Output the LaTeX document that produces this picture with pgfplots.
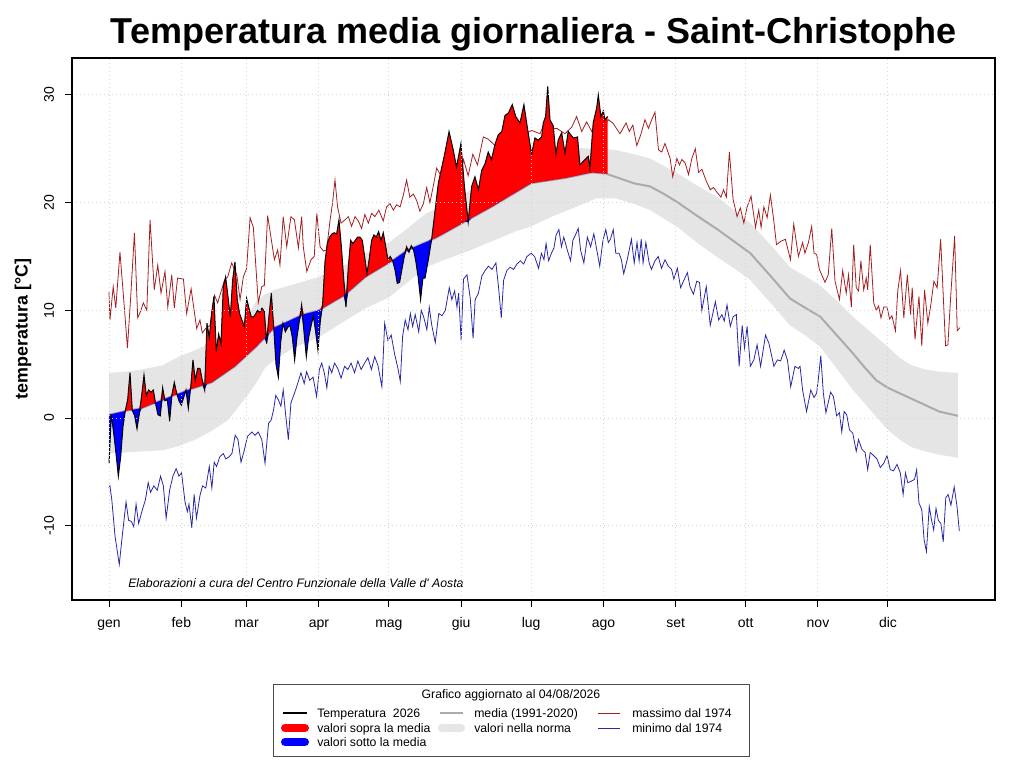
\documentclass[border=0pt]{standalone}
\usepackage{fontspec}
\setmainfont{Liberation Sans}
\usepackage{pgfplots}
\usepackage{pgfplotstable}
\pgfplotsset{compat=1.18}
\usepgfplotslibrary{fillbetween}
\definecolor{bandgray}{HTML}{E5E5E5}
\definecolor{meangray}{HTML}{ABABAB}
\definecolor{maxred}{HTML}{A41E22}
\definecolor{minblue}{HTML}{2828A8}
\definecolor{gridgray}{HTML}{D3D3D3}

% temperature 2026 (t) with the 1991-2020 mean (m) at the same days
\pgfplotstableread{
d t m
1 -4.2 0.30
2 0.3 0.35
3 -1.4 0.40
4 -3.3 0.45
5 -5.4 0.50
6 -3.6 0.55
7 -0.8 0.60
8 0.7 0.65
9 1.7 0.70
10 4.2 0.73
11 0.7 0.77
12 0.2 0.80
13 -1.0 0.83
14 0.4 0.87
15 2.1 0.90
16 4.0 0.99
17 2.1 1.08
18 2.6 1.17
19 2.4 1.26
20 2.6 1.34
21 1.3 1.43
22 0.3 1.52
23 0.2 1.61
24 2.8 1.70
25 1.6 1.78
26 1.7 1.86
27 -0.3 1.95
28 2.2 2.03
29 3.3 2.11
30 2.3 2.19
31 1.6 2.27
32 1.2 2.35
33 1.9 2.44
34 2.6 2.52
35 0.9 2.60
36 2.8 2.67
37 5.4 2.74
38 3.5 2.81
39 4.6 2.88
40 4.6 2.95
41 3.5 3.02
42 2.6 3.09
43 8.8 3.16
44 7.5 3.23
45 9.7 3.30
46 11.3 3.45
47 6.2 3.60
48 7.8 3.75
49 6.9 3.90
50 12.2 4.05
51 13.1 4.20
52 11.3 4.35
53 9.4 4.50
54 12.8 4.65
55 14.5 4.80
56 11.0 5.00
57 9.7 5.20
58 9.1 5.40
59 8.5 5.60
60 11.1 5.80
61 10.2 6.00
62 9.4 6.20
63 9.4 6.40
64 9.7 6.60
64.6 10.0 6.74
65.6 9.8 6.96
66.6 10.2 7.19
67.6 9.9 7.41
68.6 6.9 7.64
69.6 9.5 7.86
70.6 11.6 8.09
71.6 8.5 8.31
72.6 5.0 8.46
73.6 3.8 8.56
74.6 7.0 8.66
75.6 8.8 8.76
76.6 8.0 8.86
77.6 8.4 8.96
78.6 8.6 9.06
79.6 7.5 9.16
80.6 5.4 9.26
81.6 7.5 9.36
82.6 9.0 9.46
83.6 10.5 9.56
84.6 8.0 9.63
85.6 5.7 9.69
86.6 7.5 9.75
87.6 8.5 9.80
88.6 9.5 9.86
89.6 8.0 9.92
90.6 6.3 9.98
91.6 9.0 10.08
92.6 10.6 10.20
93.6 14.5 10.33
94.6 16.2 10.46
95.6 16.8 10.58
96.6 17.1 10.71
97.6 17.2 10.84
98.6 17.1 10.97
99.6 18.4 11.09
100.6 16.0 11.22
101.6 13.0 11.35
102.6 10.3 11.51
103.6 14.0 11.70
104.6 16.5 11.89
105.6 16.2 12.08
106.6 16.5 12.27
107.6 16.8 12.46
108.6 16.8 12.65
109.6 16.5 12.84
110.6 15.0 13.02
111.6 13.4 13.18
112.6 14.8 13.31
113.6 16.5 13.44
114.6 17.0 13.57
115.6 16.8 13.70
116.6 17.3 13.83
117.6 16.5 13.96
118.6 17.2 14.09
119.6 16.0 14.22
120.6 14.7 14.35
121.6 15.0 14.49
122.6 14.6 14.64
123.6 13.8 14.79
124.6 12.5 14.94
125.6 12.6 15.09
126.6 13.8 15.24
127.6 15.0 15.39
128.6 15.9 15.54
129.6 15.4 15.66
130.6 16.0 15.75
131.6 15.6 15.84
132.6 14.5 15.93
133.6 13.0 16.02
134.6 11.0 16.12
135.6 13.0 16.21
136.5 13.0 16.29
138.0 14.8 16.43
139.4 16.7 16.56
142.2 21.8 16.85
145.0 24.6 17.18
146.8 26.6 17.40
148.6 24.9 17.62
150.0 23.3 17.79
151.9 25.5 18.02
153.4 21.5 18.21
155.0 18.2 18.40
156.5 21.5 18.58
157.9 22.4 18.75
159.4 21.2 18.93
160.8 23.0 19.10
162.2 23.6 19.26
163.6 24.7 19.43
165.0 24.0 19.60
166.5 25.4 19.79
167.9 26.3 19.97
169.4 26.6 20.17
170.8 28.1 20.35
172.2 28.3 20.54
173.9 29.1 20.76
175.4 28.0 20.95
177.2 27.4 21.18
178.9 29.1 21.40
180.5 26.8 21.61
182.2 24.5 21.81
183.6 26.0 21.85
185.0 25.8 21.90
186.5 26.1 21.95
187.2 27.4 21.97
188.2 28.0 22.00
189.1 30.8 22.03
190.1 27.7 22.07
191.5 27.1 22.11
192.6 24.5 22.15
193.6 25.8 22.18
195.1 26.5 22.24
196.5 24.6 22.28
197.9 26.6 22.34
200.1 26.0 22.44
201.9 26.1 22.52
202.9 23.5 22.57
205.1 24.0 22.67
206.5 24.3 22.73
207.2 23.2 22.76
208.6 27.4 22.79
210.1 28.8 22.76
210.8 30.0 22.75
211.9 28.0 22.73
213.0 28.5 22.71
213.6 27.7 22.70
214.8 28.0 22.68
}\temp

% mean 1991-2020
\pgfplotstableread{
d m
1 0.3
9 0.7
15 0.9
24 1.7
35 2.6
45 3.3
55 4.8
60 5.8
64 6.6
72 8.4
78 9.0
84 9.6
91 10.0
102 11.4
111 13.1
121 14.4
129 15.6
141 16.7
155 18.4
165 19.6
182 21.8
197 22.3
208 22.8
214 22.7
218 22.4
222 22.1
226 21.8
233 21.5
239 20.8
245 20.0
253 18.8
262 17.5
269 16.4
276 15.3
285 13.1
293 11.1
299 10.3
306 9.4
313 7.7
320 6.0
325 4.7
330 3.5
335 2.8
343 2.0
350 1.3
357 0.6
365 0.2
}\mean

% band of normal values
\pgfplotstableread{
d lo hi
1 -3.3 4.2
8 -3.2 4.3
15 -3.1 4.5
24 -3.0 4.9
31 -2.6 5.7
38 -2.0 6.3
45 -1.2 7.0
52 -0.2 7.9
60 2.0 9.3
64 3.2 10.8
68 4.7 11.5
72 5.4 11.9
80 6.5 12.4
91 7.5 13.1
102 9.0 14.2
111 10.2 15.3
121 11.2 16.3
129 12.6 17.6
137 14.0 19.0
145 14.7 19.8
155 15.5 21.0
165 16.4 22.3
175 17.3 23.7
182 17.8 24.3
192 18.8 24.9
200 19.5 25.1
210 20.4 25.0
218 20.4 24.9
226 19.9 24.5
233 19.3 24.1
245 17.7 22.7
253 16.3 21.6
262 14.9 20.5
269 13.9 19.3
276 12.8 18.1
285 10.6 16.0
293 8.6 14.0
300 7.6 13.1
306 6.6 12.3
313 4.6 10.9
320 2.6 9.4
328 0.6 7.9
335 -1.1 6.6
340 -2.0 5.6
345 -2.7 4.9
351 -3.1 4.5
357 -3.4 4.3
365 -3.7 4.2
}\band

% maximum since 1974
\pgfplotstableread{
d v
1 11.7
1.4 9.1
2.8 12.2
3.9 10.2
5.7 15.4
7.6 10.2
8.9 6.5
10.4 11.6
11.9 17.2
13.3 9.3
14.7 10.0
15.7 10.7
17.2 10.0
18.6 18.4
20.4 11.9
21.9 14.2
23.3 11.6
25.0 13.6
26.2 10.3
27.9 13.3
29.0 10.2
30.4 13.0
32.9 12.9
34.3 9.7
36.2 12.0
38.6 8.3
40.0 9.1
41.0 7.9
42.4 8.3
44.3 8.6
46.2 11.4
47.6 10.7
49.0 11.7
50.5 12.8
51.9 13.1
53.6 14.4
55.8 13.3
57.2 11.0
58.6 13.1
60.0 13.9
61.5 18.6
62.9 17.7
63.6 15.3
65.0 10.7
66.5 12.2
67.6 12.3
69.0 18.8
70.5 16.7
71.9 14.7
73.3 15.6
74.3 14.2
75.7 18.7
77.2 15.9
79.0 18.7
80.5 18.4
82.2 15.8
83.6 18.7
84.3 15.9
85.8 13.6
87.6 14.7
89.0 15.0
90.1 19.0
91.5 15.9
93.0 15.5
94.3 15.6
95.8 18.4
96.8 19.9
97.9 22.1
99.0 19.6
100.5 18.1
102.2 18.4
103.6 18.7
105.0 17.8
106.5 18.7
107.9 18.3
109.3 17.6
110.7 18.9
112.2 18.1
113.6 19.0
115.0 18.7
116.7 19.3
118.6 18.3
120.0 19.6
121.5 19.9
122.9 19.3
124.3 19.8
125.8 19.6
127.2 20.7
128.6 22.1
130.0 20.5
131.5 20.8
132.9 20.2
134.3 19.2
135.8 19.9
137.2 21.4
138.6 20.0
140.0 21.5
141.5 23.2
143.6 22.4
145 22.0
147 20.5
149 23.5
151 21.5
153 24.0
155 22.5
157 24.5
159 23.5
161.5 26.1
163.6 25.9
166.5 25.3
168.6 25.6
170 26.7
172 25.5
174 27.0
176 26.0
178 27.5
180 26.5
182.3 26.7
185.8 26.4
188 27.5
190 26.8
193 26.9
196.5 26.4
199.4 27.0
201.5 28.0
203.7 26.6
205.8 27.5
208 26.6
210 27.5
212 27.0
214.5 27.5
215.1 27.7
217 27.4
220.1 26.4
222.7 27.4
224.1 26.6
225.6 27.2
227.3 25.3
229 26.3
230.8 27.7
232.3 26.9
233.7 27.7
235.1 28.4
236.6 24.9
238 24.7
239.4 25.5
241.6 24.1
242.7 22.4
244.5 24.1
245.6 23.5
246.6 24.0
248 23.7
249.5 22.6
250.9 24.1
252.4 25.0
253.8 22.8
255.2 23.1
257.1 22.0
258.8 21.2
260.2 21.4
261.9 20.9
263.4 20.5
264.5 21.2
265.7 20.5
267 24.7
268.6 20.3
270.3 18.7
271.7 19.5
273.2 18.1
274.6 19.6
276.3 20.6
278.2 17.7
279.6 19.3
280.6 17.7
281.8 19.6
283.2 18.6
284.6 20.7
286 18.4
287.2 16.1
289 16.4
291 16.6
293.2 14.7
294.6 18.0
296.6 15.0
298.4 16.3
299.4 15.3
300.9 16.3
302.3 17.8
303.3 15.3
304.4 15.2
305.6 13.8
308 12.6
309.4 13.3
310.9 17.6
312.3 12.7
314.2 11.0
315.6 13.7
317.1 11.6
318.1 13.3
319.3 10.3
320.3 16.1
321.4 12.1
322.4 11.8
323.4 14.6
324.6 11.9
325.7 13.0
326.3 11.9
327.4 16.1
328.9 10.7
330 10.0
331 10.4
332 9.3
333.2 10.3
334.6 10.3
335.7 9.2
336.7 9.5
338.2 8.1
339.2 11.8
340.4 13.7
341.8 9.3
343.3 13.3
344.7 9.6
345.4 12.1
346.6 7.3
348.3 11.3
349.5 6.7
350.7 11.9
352.1 8.8
353.3 10.4
354.7 12.7
356.1 12.1
357.6 16.6
359.7 6.7
360.7 6.8
361.9 11.3
363.6 16.9
364.7 8.1
365.9 8.4
}\tmax

% minimum since 1974
\pgfplotstableread{
d v
1 -6.5
1.4 -6.3
2.2 -7.6
3.6 -11.0
5.4 -13.6
6.8 -10.7
8.3 -7.8
9.4 -9.5
10.6 -9.6
11.6 -10.1
12.6 -8.0
13.7 -9.8
15.2 -8.6
16.6 -7.6
17.8 -6.0
18.8 -6.9
20.2 -6.3
21.7 -6.7
23.1 -5.4
24.3 -6.3
25.5 -9.3
27 -6.7
28.4 -5.4
29.8 -4.7
31 -5.4
32.1 -5.1
33.6 -7.8
34.6 -8.7
35.3 -8.0
36.5 -10.2
37.5 -7.1
38.5 -9.3
40 -7.2
41.1 -6.3
42.5 -6.5
44 -4.5
45.1 -6.5
46.1 -4.1
47.1 -4.5
48.5 -3.6
50 -3.3
51.1 -3.8
52.5 -3.6
53.7 -3.3
55.1 -1.6
56.3 -2.0
57.6 -4.1
59 -3.0
60.4 -1.7
62.3 -1.3
63.6 -1.6
65 -1.3
66.5 -2.0
67.9 -4.2
69.4 -0.5
70.5 -0.2
71.5 0.7
72.5 2.1
73.6 1.7
74.7 1.1
75.7 2.6
76.7 0.4
77.9 -2.0
79 1.4
80 2.0
81 2.6
81.9 3.2
83.3 4.2
84.7 3.2
85.7 4.3
87.1 3.5
88.5 3.8
90 2.0
91.2 4.5
92.2 5.1
93.3 4.2
94.4 2.8
95.4 4.8
96.5 4.2
97.7 5.1
99.1 4.6
100.5 3.7
102 4.8
103.4 4.5
104.8 5.1
106.3 4.2
107.7 5.3
109.1 4.5
110.6 5.1
112 5.6
113.5 4.5
114.9 5.7
116.3 4.9
118 2.9
119.2 8.8
120.6 7.2
122 7.7
123.4 6.0
124.9 4.6
125.9 3.4
126.9 7.6
128 9.1
129.2 8.2
130.2 9.7
131.2 8.5
132.3 9.6
133.8 8.0
134.9 10.0
135.9 9.4
137.3 8.2
138.3 10.3
139.4 8.6
140.9 7.0
142.4 9.7
143.8 9.5
145.2 10.0
146.9 12.1
148 11.0
149.2 11.8
150.2 10.3
150.9 11.6
152 7.2
153 12.9
154.5 13.3
155.9 11.1
157.1 7.4
158 11.0
159.4 11.6
160.9 13.2
162.3 13.7
163.7 14.1
165.2 13.8
166.9 14.4
168 12.2
169.2 9.3
170.2 12.8
171.6 13.7
173 14.0
174.5 13.8
175.9 14.3
177.4 14.6
178.8 14.3
180.2 15.0
182.1 15.3
183.5 15.0
185.2 13.9
186.4 15.3
187.5 14.7
188.4 16.2
189.5 14.6
190.7 15.3
191.8 15.8
192.7 17.0
193.9 17.5
195 15.9
196 16.8
197.5 15.6
198.9 14.6
199.9 16.5
201 17.0
202.2 17.6
203.2 15.6
204.6 14.4
206.1 16.8
207.5 15.9
208.9 17.1
210.4 15.3
211.4 14.1
212.8 16.5
214 17.5
215.1 16.3
216 16.6
217.2 17.5
218.3 15.3
219.7 15.3
220.7 14.7
221.7 13.4
223.2 14.7
225 16.6
226.2 14.4
227.4 16.3
228.3 14.6
229.2 16.6
230 14.4
231.2 16.3
232.6 14.4
233.6 13.8
235.1 14.6
236.5 15.0
237.9 13.9
239.4 14.7
240.8 14.1
242.2 13.8
243.2 12.9
244.7 13.9
246.1 12.1
247.3 12.7
249 13.5
250.1 12.2
251.6 11.5
253 12.7
254.2 12.6
255.2 10.0
257.1 12.2
258.8 8.6
261 10.8
262.4 9.1
263.8 9.6
264.8 9.0
266 10.5
267.4 8.5
268.6 9.4
270 9.6
271.2 4.8
272.5 8.6
273.5 6.5
274.6 8.5
276 4.8
277.5 5.4
278.9 6.8
280.4 4.8
282.5 7.7
284 6.9
286.1 4.8
287.6 5.4
289 5.3
290.5 6.3
291.9 5.4
293.3 2.9
295.1 4.8
296.6 4.6
297.3 4.8
298.4 2.6
300.1 0.6
301.9 2.6
303.3 1.9
304.4 2.3
305.1 3.5
306.2 5.8
307.3 2.3
308.4 0.5
310.4 2.4
311.6 2.0
313 0.2
314.2 0.5
315.2 -1.3
316.2 0.6
317.3 0.3
318.5 -1.1
319.9 -1.4
321.4 -3.1
322.4 -2.0
323.8 -2.9
325.2 -3.2
326.3 -4.8
327.4 -3.2
328.9 -3.5
330.3 -3.8
331.7 -4.6
333.2 -4.2
334.6 -3.5
336 -4.8
337.4 -4.9
338.9 -4.3
340.3 -5.1
341.5 -7.1
342.5 -5.1
343.5 -6.0
344.7 -5.9
346.4 -5.7
347.3 -4.8
348.3 -7.9
349.5 -8.5
350.5 -11.3
351.5 -12.4
352.7 -8.2
353.7 -9.5
354.6 -10.4
355.6 -8.4
356.6 -9.5
357.7 -9.8
358.7 -11.5
359.8 -7.4
360.8 -7.1
362 -8.1
363.4 -6.4
364.6 -8.2
365.6 -10.5
}\tmin

\begin{document}
\begin{tikzpicture}
\begin{axis}[
  set layers, axis on top,
  at={(54pt,-450pt)}, anchor=south west,
  scale only axis, width=692.25pt, height=406.5pt,
  xmin=-14.87, xmax=380.9, ymin=-16.9, ymax=33.43,
  xtick={1,32,60,91,121,152,182,213,244,274,305,335},
  xticklabels={gen,feb,mar,apr,mag,giu,lug,ago,set,ott,nov,dic},
  ytick={-10,0,10,20,30}, yticklabels={-10,0,10,20,30},
  xtick pos=bottom, ytick pos=left,
  tick align=outside, major tick length=5.25pt,
  tick style={black, line width=0.75pt},
  grid=major,
  major grid style={gridgray, line width=0.75pt, dash pattern=on 0.75pt off 2.25pt},
  axis line style={black, line width=0.9pt},
  tick label style={font=\fontsize{10.5}{12}\selectfont},
  xticklabel style={anchor=base, yshift=-15pt},
  yticklabel style={xshift=-8.25pt, rotate=90, anchor=base},
]
% band of normal values
\addplot[draw=none, name path=bhi, forget plot] table[x=d, y=hi] {\band};
\addplot[draw=none, name path=blo, forget plot] table[x=d, y=lo] {\band};
\addplot[fill=bandgray, draw=none, on layer=pre main, forget plot] fill between[of=bhi and blo];
% mean
\addplot[meangray, line width=1.5pt, on layer=pre main, forget plot] table[x=d, y=m] {\mean};
% max and min since 1974
\addplot[maxred, line width=0.6pt, on layer=pre main, forget plot] table[x=d, y=v] {\tmax};
\addplot[minblue, line width=0.6pt, on layer=pre main, forget plot] table[x=d, y=v] {\tmin};
% above / below the mean
\addplot[draw=none, name path=tup, forget plot] table[x=d, y expr={max(\thisrow{t},\thisrow{m})}] {\temp};
\addplot[draw=none, name path=tmm, forget plot] table[x=d, y=m] {\temp};
\addplot[draw=none, name path=tlo, forget plot] table[x=d, y expr={min(\thisrow{t},\thisrow{m})}] {\temp};
\addplot[fill=red, draw=none, on layer=pre main, forget plot] fill between[of=tup and tmm];
\addplot[fill=blue, draw=none, on layer=pre main, forget plot] fill between[of=tmm and tlo];
% temperature 2026
\addplot[black, line width=0.75pt, on layer=main, forget plot] table[x=d, y=t] {\temp};
\end{axis}

\begin{scope}[x=0.75pt, y=-0.75pt]
\node[font=\fontsize{27}{30}\bfseries\selectfont, anchor=base] at (533.5,43.5) {Temperatura media giornaliera - Saint-Christophe};
\node[font=\fontsize{13.4}{15}\bfseries\selectfont, rotate=90, anchor=base] at (27.5,329) {temperatura [°C]};
\node[font=\fontsize{9.2}{11}\itshape\selectfont, anchor=base west, inner sep=0pt] at (128,587) {Elaborazioni a cura del Centro Funzionale della Valle d\textquotesingle\ Aosta};
% legend
\draw[black!70, line width=0.75pt] (273,684) rectangle (749,756);
\node[font=\fontsize{9.2}{11}\selectfont, anchor=base] at (511,698) {Grafico aggiornato al 04/08/2026};
\draw[black, line width=1.5pt] (283,713) -- (307,713);
\draw[red, line width=6pt, line cap=round] (285,728) -- (305,728);
\draw[blue, line width=6pt, line cap=round] (285,742) -- (305,742);
\draw[meangray, line width=1.5pt] (440,713) -- (463,713);
\draw[bandgray, line width=6pt, line cap=round] (442,728) -- (461,728);
\draw[maxred, line width=0.6pt] (598,713) -- (620,713);
\draw[minblue, line width=0.6pt] (598,728) -- (620,728);
\begin{scope}[every node/.style={font=\fontsize{9.2}{11}\selectfont, anchor=base west, inner sep=0pt}]
\node at (317,717) {Temperatura~ 2026};
\node at (317,732) {valori sopra la media};
\node at (317,746) {valori sotto la media};
\node at (474,717) {media (1991-2020)};
\node at (474,732) {valori nella norma};
\node at (632,717) {massimo dal 1974};
\node at (632,732) {minimo dal 1974};
\end{scope}
\pgfresetboundingbox
\useasboundingbox (0,0) rectangle (1024,768);
\end{scope}
\end{tikzpicture}
\end{document}
